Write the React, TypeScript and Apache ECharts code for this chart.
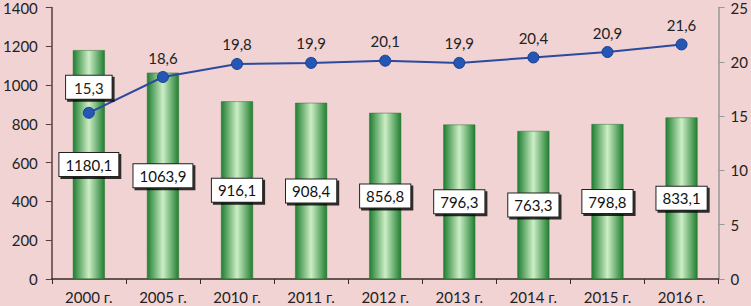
import React, { useEffect, useRef } from "react";
import * as echarts from "echarts";

const categories = ["2000 г.", "2005 г.", "2010 г.", "2011 г.", "2012 г.", "2013 г.", "2014 г.", "2015 г.", "2016 г."];
const barValues = [1180.1, 1063.9, 916.1, 908.4, 856.8, 796.3, 763.3, 798.8, 833.1];
const lineValues = [15.3, 18.6, 19.8, 19.9, 20.1, 19.9, 20.4, 20.9, 21.6];

const fmt = (v: number) => v.toFixed(1).replace(".", ",");
const FONT = "Lato, 'Open Sans', sans-serif";

export default function App() {
  const ref = useRef<HTMLDivElement>(null);
  useEffect(() => {
    if (!ref.current) return;
    const chart = echarts.init(ref.current, null, { renderer: "svg" });
    chart.setOption({
      animation: false,
      backgroundColor: "#f1d3d3",
      textStyle: { fontFamily: FONT },
      grid: { left: 48, right: 31, top: 5, bottom: 27 },
      xAxis: {
        type: "category",
        data: categories,
        axisLine: { lineStyle: { color: "#3a2a2a", width: 1.5 } },
        axisTick: { show: true, length: 5, lineStyle: { color: "#3a2a2a" } },
        axisLabel: { color: "#222", fontSize: 15, margin: 10, fontFamily: FONT },
      },
      yAxis: [
        {
          type: "value",
          min: 0,
          max: 1400,
          interval: 200,
          axisLine: { show: true, lineStyle: { color: "#5a3e3e", width: 1.5 } },
          axisTick: { show: true, length: 6, lineStyle: { color: "#5a3e3e" } },
          splitLine: { show: false },
          axisLabel: { color: "#222", fontSize: 15, margin: 14, fontFamily: FONT, formatter: (v: number) => String(v) },
        },
        {
          type: "value",
          min: 0,
          max: 25,
          interval: 5,
          position: "right",
          axisLine: { show: true, lineStyle: { color: "#999", width: 1.5 } },
          axisTick: { show: true, length: 6, lineStyle: { color: "#999" } },
          splitLine: { show: false },
          axisLabel: { color: "#222", fontSize: 15, margin: 12, fontFamily: FONT },
        },
      ],
      series: [
        {
          type: "bar",
          data: barValues,
          barWidth: 32,
          itemStyle: {
            color: new echarts.graphic.LinearGradient(0, 0, 1, 0, [
              { offset: 0, color: "#1f7e30" },
              { offset: 0.5, color: "#cdeec6" },
              { offset: 1, color: "#1f7e30" },
            ]),
            borderColor: "#2a7532",
            borderWidth: 0.5,
          },
          label: {
            show: true,
            position: "inside",
            formatter: (p: any) => fmt(p.value),
            color: "#111",
            fontSize: 15,
            fontFamily: FONT,
            backgroundColor: "#fff",
            borderColor: "#222",
            borderWidth: 1,
            padding: [5, 6, 3, 6],
            shadowColor: "rgba(0,0,0,0.8)",
            shadowOffsetX: 2,
            shadowOffsetY: 2,
            shadowBlur: 0,
          },
        },
        {
          type: "line",
          yAxisIndex: 1,
          data: lineValues.map((v, i) =>
            i === 0
              ? {
                  value: v,
                  label: {
                    show: true,
                    position: "top",
                    distance: 8,
                    backgroundColor: "#fff",
                    borderColor: "#222",
                    borderWidth: 1,
                    padding: [5, 8, 3, 8],
                    shadowColor: "rgba(0,0,0,0.8)",
                    shadowOffsetX: 2,
                    shadowOffsetY: 2,
                    shadowBlur: 0,
                  },
                }
              : v
          ),
          symbol: "circle",
          symbolSize: 11,
          lineStyle: { color: "#2c4a9e", width: 2 },
          itemStyle: { color: "#2457b5", borderColor: "#1d3f8f", borderWidth: 1 },
          label: {
            show: true,
            position: "top",
            distance: 6,
            formatter: (p: any) => fmt(p.value),
            color: "#222",
            fontSize: 15,
            fontFamily: FONT,
          },
        },
      ],
    });
    return () => chart.dispose();
  }, []);
  return <div ref={ref} style={{ width: 751, height: 306, position: "absolute", left: 0, top: 0 }} />;
}
